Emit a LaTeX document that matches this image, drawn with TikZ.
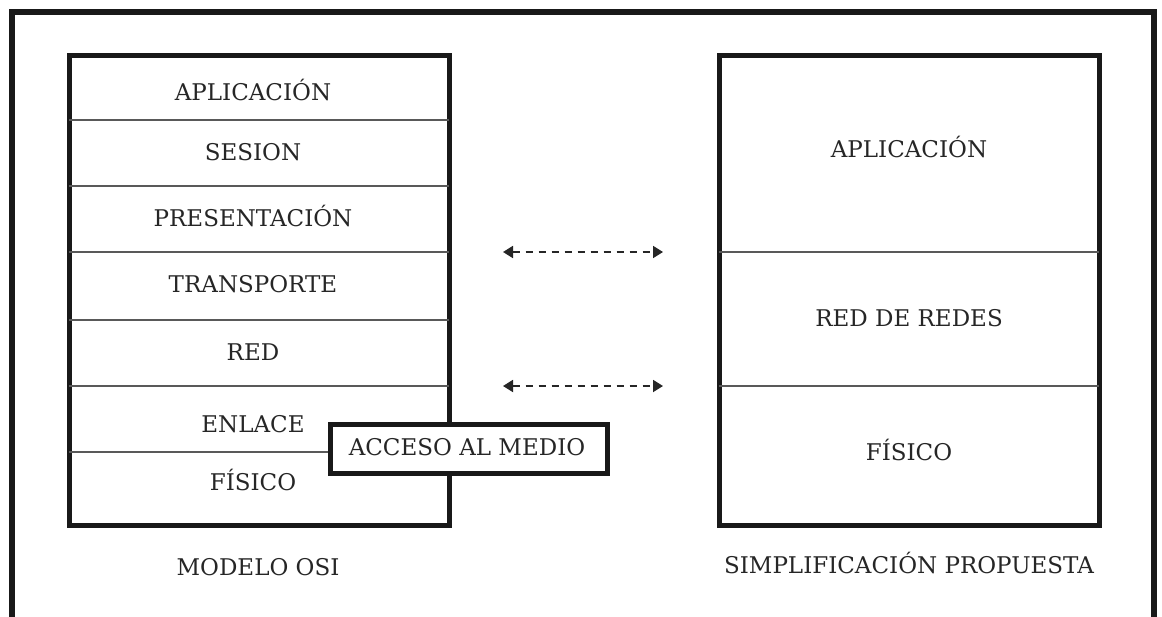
\documentclass[tikz,border=0pt]{standalone}
\usepackage{fontspec}
\setmainfont{DejaVu Serif}
\usetikzlibrary{arrows.meta}
\begin{document}
\begin{tikzpicture}[x=1pt,y=-1pt,
  outer/.style={line width=6pt, draw=black!90},
  stackbox/.style={line width=5pt, draw=black!90},
  divider/.style={line width=1.6pt, draw=black!65},
  layer/.style={font=\fontsize{23}{25}\selectfont, text=black!85,
    inner sep=0pt, text height=16.5pt, text depth=0pt},
  link/.style={line width=1.8pt, draw=black!85, dash pattern=on 7pt off 6pt,
    {Triangle[length=10pt,width=12pt]}-{Triangle[length=10pt,width=12pt]}}
]
\useasboundingbox (0,0) rectangle (1162,616);
\fill[white] (0,0) rectangle (1162,616);
\begin{scope}
  \clip (0,0) rectangle (1162,616);
  \draw[outer] (12,12) rectangle (1154,660);
\end{scope}

% OSI reference model: seven layers
\draw[stackbox] (69,55) rectangle (449,525);
\foreach \y in {120,186,252,320,386,452}
  \draw[divider] (69,\y) -- (449,\y);
\node[layer] (osi7) at (253,92)  {APLICACIÓN};
\node[layer] (osi6) at (253,152) {SESION};
\node[layer] (osi5) at (253,218) {PRESENTACIÓN};
\node[layer] (osi4) at (253,284) {TRANSPORTE};
\node[layer] (osi3) at (253,352) {RED};
\node[layer] (osi2) at (253,424) {ENLACE};
\node[layer] (osi1) at (253,482) {FÍSICO};
\node[layer] (osiname) at (258,567) {MODELO OSI};

% medium access sublayer overlapping the stack edge
\draw[stackbox, fill=white] (330,424) rectangle (607,473);
\node[layer] (mac) at (467,447) {ACCESO AL MEDIO};

% proposed simplification: three layers
\draw[stackbox] (719,55) rectangle (1099,525);
\foreach \y in {252,386}
  \draw[divider] (719,\y) -- (1099,\y);
\node[layer] (sim3) at (909,149) {APLICACIÓN};
\node[layer] (sim2) at (909,318) {RED DE REDES};
\node[layer] (sim1) at (909,452) {FÍSICO};
\node[layer] (simname) at (909,565) {SIMPLIFICACIÓN PROPUESTA};

% correspondence between the two models
\coordinate (upL) at (503,252);
\coordinate (upR) at (663,252);
\coordinate (loL) at (503,386);
\coordinate (loR) at (663,386);
\draw[link] (upL) -- (upR);
\draw[link] (loL) -- (loR);
\end{tikzpicture}
\end{document}
